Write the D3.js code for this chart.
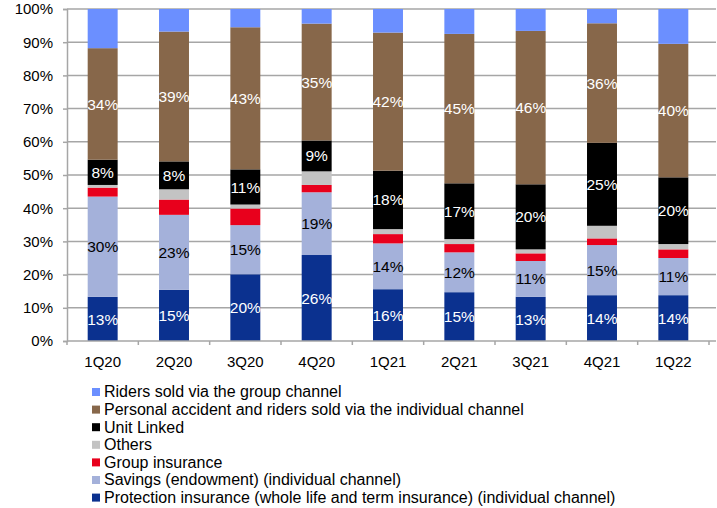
<!DOCTYPE html>
<html>
<head>
<meta charset="utf-8">
<script src="https://cdn.jsdelivr.net/npm/d3@7"></script>
<style>
  html, body { margin: 0; padding: 0; background: #fff; }
  svg { display: block; font-family: "Liberation Sans", Arial, sans-serif; }
</style>
</head>
<body>
<svg id="chart" width="717" height="508"></svg>
<script>
// Quarterly premium mix (% of total), stacked bottom to top
const quarters = ["1Q20", "2Q20", "3Q20", "4Q20", "1Q21", "2Q21", "3Q21", "4Q21", "1Q22"];
const protection = [13.3, 15.4, 20.1, 25.9, 15.6, 14.7, 13.3, 13.8, 13.8];
const savings    = [30.2, 22.6, 14.8, 18.9, 13.8, 12.0, 10.8, 15.1, 11.2];
const groupIns   = [2.7, 4.6, 5.0, 2.2, 2.8, 2.5, 2.3, 2.0, 2.6];
const others     = [0.8, 3.1, 1.2, 4.1, 1.5, 1.5, 1.2, 3.8, 1.6];
const unitLinked = [7.6, 8.4, 10.6, 9.3, 17.6, 16.8, 19.6, 25.0, 20.1];
const personalAcc = [33.6, 39.1, 42.8, 35.2, 41.6, 45.0, 46.2, 36.0, 40.2];
const ridersGroup = [11.8, 6.8, 5.5, 4.4, 7.1, 7.5, 6.6, 4.3, 10.5];
const yTicks = [0, 10, 20, 30, 40, 50, 60, 70, 80, 90, 100];

// Series in stacking order (bottom first)
const series = [
  { key: "prot", name: "Protection insurance (whole life and term insurance) (individual channel)", values: protection, color: "#0B318F", label: "#ffffff" },
  { key: "sav", name: "Savings (endowment) (individual channel)", values: savings, color: "#A4B1DA", label: "#000000" },
  { key: "grp", name: "Group insurance", values: groupIns, color: "#E8001C", label: null },
  { key: "oth", name: "Others", values: others, color: "#C3C3C3", label: null },
  { key: "ul", name: "Unit Linked", values: unitLinked, color: "#000000", label: "#ffffff" },
  { key: "pa", name: "Personal accident and riders sold via the individual channel", values: personalAcc, color: "#87674A", label: "#ffffff" },
  { key: "rg", name: "Riders sold via the group channel", values: ridersGroup, color: "#6B8FFF", label: null }
];

const rows = quarters.map((q, i) => {
  const r = { q };
  series.forEach(s => { r[s.key] = s.values[i]; });
  return r;
});

const svg = d3.select("#chart");
const plotLeft = 67, plotRight = 709, plotTop = 9, plotBottom = 341;

const x = d3.scaleBand().domain(quarters).range([plotLeft, plotRight]).paddingInner(0.58).paddingOuter(0.29);
const y = d3.scaleLinear().domain([0, 100]).range([plotBottom, plotTop]);

// Horizontal gridlines
svg.append("g").selectAll("line").data(yTicks.filter(t => t > 0)).join("line")
  .attr("x1", plotLeft).attr("x2", 716)
  .attr("y1", d => y(d)).attr("y2", d => y(d))
  .attr("stroke", "#A6A6A6").attr("stroke-width", 1.5);

// Y axis
const yAxis = svg.append("g").attr("transform", `translate(${plotLeft},0)`)
  .call(d3.axisLeft(y).tickValues(yTicks).tickFormat(d => d + "%").tickSize(4).tickPadding(10));
yAxis.select(".domain").attr("stroke", "#A6A6A6").attr("stroke-width", 1.5);
yAxis.selectAll(".tick line").attr("stroke", "#A6A6A6").attr("stroke-width", 1.5);
yAxis.selectAll("text").attr("font-size", 15).attr("fill", "#000")
  .attr("font-family", "Liberation Sans, Arial, sans-serif");

// Stacked bars
const stack = d3.stack().keys(series.map(s => s.key));
const layers = stack(rows);

const layerG = svg.append("g").selectAll("g").data(layers).join("g")
  .attr("fill", (d, i) => series[i].color);
layerG.selectAll("rect").data(d => d).join("rect")
  .attr("x", d => x(d.data.q))
  .attr("width", x.bandwidth())
  .attr("y", d => y(d[1]))
  .attr("height", d => y(d[0]) - y(d[1]));

// X axis with ticks on category boundaries
const xAxisG = svg.append("g").attr("transform", `translate(0,${plotBottom})`);
xAxisG.append("line").attr("x1", plotLeft).attr("x2", 716)
  .attr("stroke", "#A6A6A6").attr("stroke-width", 1.5);
const edges = d3.range(quarters.length + 1).map(i => plotLeft + i * x.step());
xAxisG.selectAll("line.tk").data(edges).join("line").attr("class", "tk")
  .attr("x1", d => d).attr("x2", d => d).attr("y1", 0).attr("y2", 4)
  .attr("stroke", "#A6A6A6").attr("stroke-width", 1.5);
xAxisG.selectAll("text").data(quarters).join("text")
  .attr("x", d => x(d) + x.bandwidth() / 2)
  .attr("y", 26)
  .attr("text-anchor", "middle")
  .attr("font-size", 15)
  .attr("fill", "#000")
  .text(d => d);

// Value labels inside labelled segments
layers.forEach((layer, i) => {
  const s = series[i];
  if (!s.label) return;
  svg.append("g").selectAll("text").data(layer).join("text")
    .attr("x", d => x(d.data.q) + x.bandwidth() / 2)
    .attr("y", d => (y(d[0]) + y(d[1])) / 2)
    .attr("dy", "0.36em")
    .attr("text-anchor", "middle")
    .attr("font-size", 15.5)
    .attr("fill", s.label)
    .text(d => Math.round(d[1] - d[0]) + "%");
});

// Legend (top item = top of the stack)
const legendItems = series.slice().reverse();
const lg = svg.append("g").selectAll("g").data(legendItems).join("g")
  .attr("transform", (d, i) => `translate(92,${392 + i * 17.6})`);
lg.append("rect").attr("x", 0).attr("y", -4).attr("width", 8).attr("height", 8)
  .attr("fill", d => d.color);
lg.append("text").attr("x", 12).attr("y", 0).attr("dy", "0.34em")
  .attr("font-size", 16).attr("fill", "#000")
  .text(d => d.name);
</script>
</body>
</html>
